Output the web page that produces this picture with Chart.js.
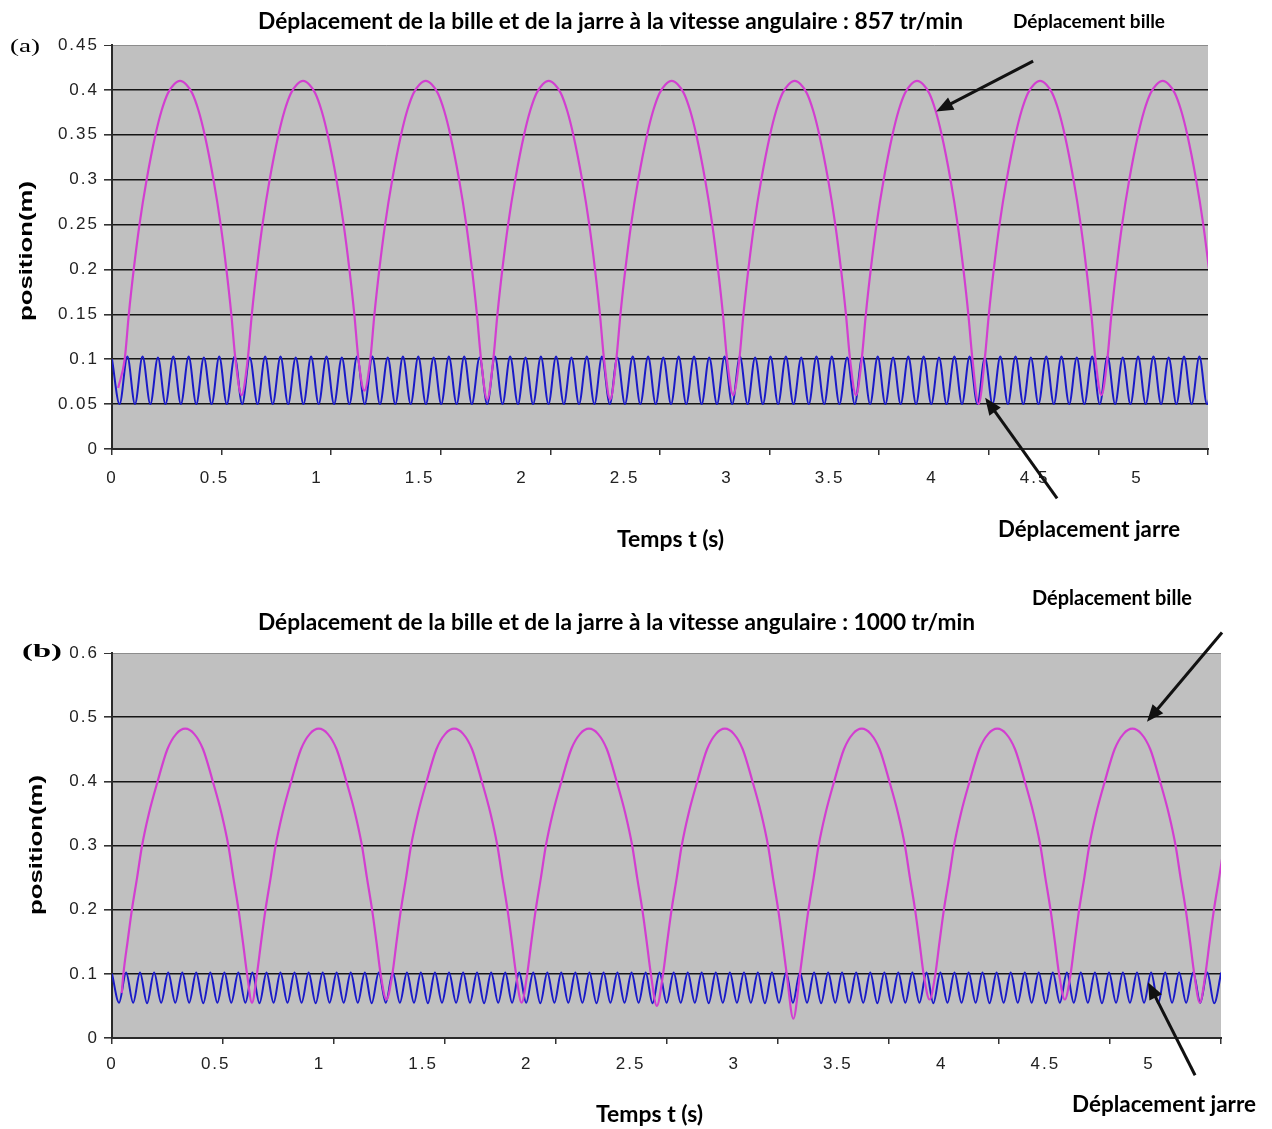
<!DOCTYPE html>
<html>
<head>
<meta charset="utf-8">
<script src="https://cdn.jsdelivr.net/npm/chart.js@4.4.0/dist/chart.umd.min.js"></script>
<style>
  body { margin: 0; background: #fff; }
  .panel { position: absolute; left: 0; width: 1272px; }
</style>
</head>
<body>
<div class="panel" style="top:0;height:565px"><canvas id="chartA"></canvas></div>
<div class="panel" style="top:565px;height:564px"><canvas id="chartB"></canvas></div>
<script>
// ---- données ----
const titreA = "Déplacement de la bille et de la jarre à la vitesse angulaire : 857 tr/min";
const titreB = "Déplacement de la bille et de la jarre à la vitesse angulaire : 1000 tr/min";
const labelBille = "Déplacement bille";
const labelJarre = "Déplacement jarre";
const labelTemps = "Temps t (s)";
const labelPosition = "position(m)";

const xTicks = [0, 0.5, 1, 1.5, 2, 2.5, 3, 3.5, 4, 4.5, 5];
const yTicksA = [0, 0.05, 0.1, 0.15, 0.2, 0.25, 0.3, 0.35, 0.4, 0.45];
const yTicksB = [0, 0.1, 0.2, 0.3, 0.4, 0.5, 0.6];

// (a) 857 tr/min : bille
const billeA_t = [
  0.030, 0.062, 0.082, 0.106, 0.134, 0.169, 0.212, 0.242, 0.272, 0.302, 0.332, 0.362, 0.392, 0.422, 0.452, 0.495, 0.530, 0.558, 0.582, 0.602, 0.632,
  0.662, 0.682, 0.706, 0.734, 0.769, 0.812, 0.842, 0.872, 0.902, 0.932, 0.962, 0.992, 1.022, 1.052, 1.095, 1.130, 1.158, 1.182, 1.202, 1.231,
  1.260, 1.280, 1.304, 1.332, 1.367, 1.410, 1.440, 1.470, 1.500, 1.530, 1.560, 1.590, 1.620, 1.650, 1.693, 1.728, 1.756, 1.780, 1.800, 1.830,
  1.860, 1.880, 1.904, 1.932, 1.967, 2.010, 2.040, 2.070, 2.100, 2.130, 2.160, 2.190, 2.220, 2.250, 2.293, 2.328, 2.356, 2.380, 2.400, 2.430,
  2.460, 2.480, 2.504, 2.532, 2.567, 2.610, 2.640, 2.670, 2.700, 2.730, 2.760, 2.790, 2.820, 2.850, 2.893, 2.928, 2.956, 2.980, 3.000, 3.030,
  3.060, 3.080, 3.104, 3.132, 3.167, 3.210, 3.240, 3.270, 3.300, 3.330, 3.360, 3.390, 3.420, 3.450, 3.493, 3.528, 3.556, 3.580, 3.600, 3.629,
  3.657, 3.677, 3.701, 3.729, 3.764, 3.807, 3.837, 3.867, 3.897, 3.927, 3.957, 3.987, 4.017, 4.047, 4.090, 4.125, 4.153, 4.177, 4.197, 4.227,
  4.257, 4.277, 4.301, 4.329, 4.364, 4.407, 4.437, 4.467, 4.497, 4.527, 4.557, 4.587, 4.617, 4.647, 4.690, 4.725, 4.753, 4.777, 4.797, 4.826,
  4.855, 4.875, 4.899, 4.927, 4.962, 5.005, 5.035, 5.065, 5.095, 5.125, 5.155, 5.185, 5.215, 5.245, 5.288, 5.323, 5.351
];
const billeA_y = [
  0.068, 0.10, 0.15, 0.20, 0.25, 0.30, 0.35, 0.377, 0.396, 0.406, 0.41, 0.406, 0.396, 0.377, 0.35, 0.30, 0.25, 0.20, 0.15, 0.10, 0.06,
  0.10, 0.15, 0.20, 0.25, 0.30, 0.35, 0.377, 0.396, 0.406, 0.41, 0.406, 0.396, 0.377, 0.35, 0.30, 0.25, 0.20, 0.15, 0.10, 0.065,
  0.10, 0.15, 0.20, 0.25, 0.30, 0.35, 0.377, 0.396, 0.406, 0.41, 0.406, 0.396, 0.377, 0.35, 0.30, 0.25, 0.20, 0.15, 0.10, 0.055,
  0.10, 0.15, 0.20, 0.25, 0.30, 0.35, 0.377, 0.396, 0.406, 0.41, 0.406, 0.396, 0.377, 0.35, 0.30, 0.25, 0.20, 0.15, 0.10, 0.055,
  0.10, 0.15, 0.20, 0.25, 0.30, 0.35, 0.377, 0.396, 0.406, 0.41, 0.406, 0.396, 0.377, 0.35, 0.30, 0.25, 0.20, 0.15, 0.10, 0.06,
  0.10, 0.15, 0.20, 0.25, 0.30, 0.35, 0.377, 0.396, 0.406, 0.41, 0.406, 0.396, 0.377, 0.35, 0.30, 0.25, 0.20, 0.15, 0.10, 0.06,
  0.10, 0.15, 0.20, 0.25, 0.30, 0.35, 0.377, 0.396, 0.406, 0.41, 0.406, 0.396, 0.377, 0.35, 0.30, 0.25, 0.20, 0.15, 0.10, 0.05,
  0.10, 0.15, 0.20, 0.25, 0.30, 0.35, 0.377, 0.396, 0.406, 0.41, 0.406, 0.396, 0.377, 0.35, 0.30, 0.25, 0.20, 0.15, 0.10, 0.06,
  0.10, 0.15, 0.20, 0.25, 0.30, 0.35, 0.377, 0.396, 0.406, 0.41, 0.406, 0.396, 0.377, 0.35, 0.30, 0.25, 0.20
];

// (a) 857 tr/min : jarre (crêtes et creux)
const jarreA_t = [
  0.000, 0.037, 0.075, 0.112, 0.149, 0.187, 0.224, 0.261, 0.299, 0.336,
  0.374, 0.411, 0.448, 0.486, 0.523, 0.560, 0.598, 0.635, 0.672, 0.710,
  0.747, 0.784, 0.822, 0.859, 0.896, 0.934, 0.971, 1.008, 1.046, 1.083,
  1.121, 1.158, 1.195, 1.233, 1.270, 1.307, 1.345, 1.382, 1.419, 1.457,
  1.494, 1.531, 1.569, 1.606, 1.643, 1.681, 1.718, 1.755, 1.793, 1.830,
  1.868, 1.905, 1.942, 1.980, 2.017, 2.054, 2.092, 2.129, 2.166, 2.204,
  2.241, 2.278, 2.316, 2.353, 2.390, 2.428, 2.465, 2.502, 2.540, 2.577,
  2.615, 2.652, 2.689, 2.727, 2.764, 2.801, 2.839, 2.876, 2.913, 2.951,
  2.988, 3.025, 3.063, 3.100, 3.137, 3.175, 3.212, 3.249, 3.287, 3.324,
  3.362, 3.399, 3.436, 3.474, 3.511, 3.548, 3.586, 3.623, 3.660, 3.698,
  3.735, 3.772, 3.810, 3.847, 3.884, 3.922, 3.959, 3.996, 4.034, 4.071,
  4.109, 4.146, 4.183, 4.221, 4.258, 4.295, 4.333, 4.370, 4.407, 4.445,
  4.482, 4.519, 4.557, 4.594, 4.631, 4.669, 4.706, 4.743, 4.781, 4.818,
  4.856, 4.893, 4.930, 4.968, 5.005, 5.042, 5.080, 5.117, 5.154, 5.192,
  5.229, 5.266, 5.304, 5.341, 5.378
];
const jarreA_y = [
  0.100, 0.050, 0.103, 0.050, 0.103, 0.050, 0.102, 0.050, 0.103, 0.050,
  0.103, 0.050, 0.102, 0.050, 0.103, 0.050, 0.103, 0.050, 0.102, 0.050,
  0.103, 0.050, 0.103, 0.050, 0.102, 0.050, 0.103, 0.050, 0.103, 0.050,
  0.102, 0.050, 0.103, 0.050, 0.103, 0.050, 0.102, 0.050, 0.103, 0.050,
  0.103, 0.050, 0.102, 0.050, 0.103, 0.050, 0.103, 0.050, 0.102, 0.050,
  0.103, 0.050, 0.103, 0.050, 0.102, 0.050, 0.103, 0.050, 0.103, 0.050,
  0.102, 0.050, 0.103, 0.050, 0.103, 0.050, 0.102, 0.050, 0.103, 0.050,
  0.103, 0.050, 0.102, 0.050, 0.103, 0.050, 0.103, 0.050, 0.102, 0.050,
  0.103, 0.050, 0.103, 0.050, 0.102, 0.050, 0.103, 0.050, 0.103, 0.050,
  0.102, 0.050, 0.103, 0.050, 0.103, 0.050, 0.102, 0.050, 0.103, 0.050,
  0.103, 0.050, 0.102, 0.050, 0.103, 0.050, 0.103, 0.050, 0.102, 0.050,
  0.103, 0.050, 0.103, 0.050, 0.102, 0.050, 0.103, 0.050, 0.103, 0.050,
  0.102, 0.050, 0.103, 0.050, 0.103, 0.050, 0.102, 0.050, 0.103, 0.050,
  0.103, 0.050, 0.102, 0.050, 0.103, 0.050, 0.103, 0.050, 0.102, 0.050,
  0.103, 0.050, 0.103, 0.050, 0.102
];

// (b) 1000 tr/min : bille
const billeB_t = [
  0.047, 0.055, 0.075, 0.096, 0.121, 0.145, 0.178, 0.220, 0.267, 0.310, 0.353, 0.396, 0.439, 0.486, 0.528, 0.561, 0.585, 0.610, 0.631, 0.651, 0.675,
  0.699, 0.719, 0.740, 0.765, 0.789, 0.822, 0.864, 0.911, 0.954, 0.997, 1.040, 1.083, 1.130, 1.172, 1.205, 1.229, 1.254, 1.275, 1.295, 1.323,
  1.352, 1.372, 1.393, 1.418, 1.442, 1.475, 1.517, 1.564, 1.607, 1.650, 1.693, 1.736, 1.783, 1.825, 1.858, 1.882, 1.907, 1.928, 1.948, 1.975,
  2.002, 2.022, 2.043, 2.068, 2.092, 2.125, 2.167, 2.214, 2.257, 2.300, 2.343, 2.386, 2.433, 2.475, 2.508, 2.532, 2.557, 2.578, 2.598, 2.627,
  2.657, 2.677, 2.698, 2.723, 2.747, 2.780, 2.822, 2.869, 2.912, 2.955, 2.998, 3.041, 3.088, 3.130, 3.163, 3.187, 3.212, 3.233, 3.253, 3.285,
  3.317, 3.337, 3.358, 3.383, 3.407, 3.440, 3.482, 3.529, 3.572, 3.615, 3.658, 3.701, 3.748, 3.790, 3.823, 3.847, 3.872, 3.893, 3.913, 3.942,
  3.970, 3.990, 4.011, 4.036, 4.060, 4.093, 4.135, 4.182, 4.225, 4.268, 4.311, 4.354, 4.401, 4.443, 4.476, 4.500, 4.525, 4.546, 4.566, 4.594,
  4.622, 4.642, 4.663, 4.688, 4.712, 4.745, 4.787, 4.834, 4.877, 4.920, 4.963, 5.006, 5.053, 5.095, 5.128, 5.152, 5.177, 5.198, 5.218, 5.245,
  5.272, 5.292, 5.313, 5.338, 5.362
];
const billeB_y = [
  0.07, 0.10, 0.15, 0.20, 0.25, 0.30, 0.35, 0.40, 0.45, 0.474, 0.482, 0.474, 0.45, 0.40, 0.35, 0.30, 0.25, 0.20, 0.15, 0.10, 0.055,
  0.10, 0.15, 0.20, 0.25, 0.30, 0.35, 0.40, 0.45, 0.474, 0.482, 0.474, 0.45, 0.40, 0.35, 0.30, 0.25, 0.20, 0.15, 0.10, 0.06,
  0.10, 0.15, 0.20, 0.25, 0.30, 0.35, 0.40, 0.45, 0.474, 0.482, 0.474, 0.45, 0.40, 0.35, 0.30, 0.25, 0.20, 0.15, 0.10, 0.055,
  0.10, 0.15, 0.20, 0.25, 0.30, 0.35, 0.40, 0.45, 0.474, 0.482, 0.474, 0.45, 0.40, 0.35, 0.30, 0.25, 0.20, 0.15, 0.10, 0.05,
  0.10, 0.15, 0.20, 0.25, 0.30, 0.35, 0.40, 0.45, 0.474, 0.482, 0.474, 0.45, 0.40, 0.35, 0.30, 0.25, 0.20, 0.15, 0.10, 0.03,
  0.10, 0.15, 0.20, 0.25, 0.30, 0.35, 0.40, 0.45, 0.474, 0.482, 0.474, 0.45, 0.40, 0.35, 0.30, 0.25, 0.20, 0.15, 0.10, 0.06,
  0.10, 0.15, 0.20, 0.25, 0.30, 0.35, 0.40, 0.45, 0.474, 0.482, 0.474, 0.45, 0.40, 0.35, 0.30, 0.25, 0.20, 0.15, 0.10, 0.06,
  0.10, 0.15, 0.20, 0.25, 0.30, 0.35, 0.40, 0.45, 0.474, 0.482, 0.474, 0.45, 0.40, 0.35, 0.30, 0.25, 0.20, 0.15, 0.10, 0.055,
  0.10, 0.15, 0.20, 0.25, 0.30
];

// (b) 1000 tr/min : jarre
const jarreB_t = [
  0.000, 0.034, 0.068, 0.102, 0.135, 0.169, 0.203, 0.237, 0.271, 0.305,
  0.339, 0.372, 0.406, 0.440, 0.474, 0.508, 0.542, 0.575, 0.609, 0.643,
  0.677, 0.711, 0.745, 0.779, 0.812, 0.846, 0.880, 0.914, 0.948, 0.982,
  1.016, 1.049, 1.083, 1.117, 1.151, 1.185, 1.219, 1.252, 1.286, 1.320,
  1.354, 1.388, 1.422, 1.456, 1.489, 1.523, 1.557, 1.591, 1.625, 1.659,
  1.693, 1.726, 1.760, 1.794, 1.828, 1.862, 1.896, 1.929, 1.963, 1.997,
  2.031, 2.065, 2.099, 2.133, 2.166, 2.200, 2.234, 2.268, 2.302, 2.336,
  2.370, 2.403, 2.437, 2.471, 2.505, 2.539, 2.573, 2.606, 2.640, 2.674,
  2.708, 2.742, 2.776, 2.810, 2.843, 2.877, 2.911, 2.945, 2.979, 3.013,
  3.047, 3.080, 3.114, 3.148, 3.182, 3.216, 3.250, 3.283, 3.317, 3.351,
  3.385, 3.419, 3.453, 3.487, 3.520, 3.554, 3.588, 3.622, 3.656, 3.690,
  3.724, 3.757, 3.791, 3.825, 3.859, 3.893, 3.927, 3.960, 3.994, 4.028,
  4.062, 4.096, 4.130, 4.164, 4.197, 4.231, 4.265, 4.299, 4.333, 4.367,
  4.401, 4.434, 4.468, 4.502, 4.536, 4.570, 4.604, 4.637, 4.671, 4.705,
  4.739, 4.773, 4.807, 4.841, 4.874, 4.908, 4.942, 4.976, 5.010, 5.044,
  5.078, 5.111, 5.145, 5.179, 5.213, 5.247, 5.281, 5.314, 5.348
];
const jarreB_y = [
  0.100, 0.055, 0.102, 0.055, 0.102, 0.054, 0.102, 0.055, 0.102, 0.055,
  0.102, 0.055, 0.102, 0.054, 0.102, 0.055, 0.102, 0.055, 0.102, 0.055,
  0.102, 0.054, 0.102, 0.055, 0.102, 0.055, 0.102, 0.055, 0.102, 0.054,
  0.102, 0.055, 0.102, 0.055, 0.102, 0.055, 0.102, 0.054, 0.102, 0.055,
  0.102, 0.055, 0.102, 0.055, 0.102, 0.054, 0.102, 0.055, 0.102, 0.055,
  0.102, 0.055, 0.102, 0.054, 0.102, 0.055, 0.102, 0.055, 0.102, 0.055,
  0.102, 0.054, 0.102, 0.055, 0.102, 0.055, 0.102, 0.055, 0.102, 0.054,
  0.102, 0.055, 0.102, 0.055, 0.102, 0.055, 0.102, 0.054, 0.102, 0.055,
  0.102, 0.055, 0.102, 0.055, 0.102, 0.054, 0.102, 0.055, 0.102, 0.055,
  0.102, 0.055, 0.102, 0.054, 0.102, 0.055, 0.102, 0.055, 0.102, 0.055,
  0.102, 0.054, 0.102, 0.055, 0.102, 0.055, 0.102, 0.055, 0.102, 0.054,
  0.102, 0.055, 0.102, 0.055, 0.102, 0.055, 0.102, 0.054, 0.102, 0.055,
  0.102, 0.055, 0.102, 0.055, 0.102, 0.054, 0.102, 0.055, 0.102, 0.055,
  0.102, 0.055, 0.102, 0.054, 0.102, 0.055, 0.102, 0.055, 0.102, 0.055,
  0.102, 0.054, 0.102, 0.055, 0.102, 0.055, 0.102, 0.055, 0.102, 0.054,
  0.102, 0.055, 0.102, 0.055, 0.102, 0.055, 0.102, 0.054, 0.102
];

// flèches [t départ, y départ, t pointe, y pointe]
const flechesA = [[4.493, 0.432, 4.020, 0.376], [4.610, -0.055, 4.259, 0.057]];
const flechesB = [[5.352, 0.632, 4.990, 0.493], [5.222, -0.058, 4.995, 0.087]];

// ---- dessin ----
const pts = (t, y) => t.map((v, i) => ({ x: v, y: y[i] }));

function drawArrow(ctx, x1, y1, x2, y2) {
  const a = Math.atan2(y2 - y1, x2 - x1), L = 17, W = 7;
  ctx.save();
  ctx.strokeStyle = '#111';
  ctx.fillStyle = '#111';
  ctx.lineWidth = 3;
  ctx.beginPath();
  ctx.moveTo(x1, y1);
  ctx.lineTo(x2 - L * 0.8 * Math.cos(a), y2 - L * 0.8 * Math.sin(a));
  ctx.stroke();
  ctx.beginPath();
  ctx.moveTo(x2, y2);
  ctx.lineTo(x2 - L * Math.cos(a) + W * Math.sin(a), y2 - L * Math.sin(a) - W * Math.cos(a));
  ctx.lineTo(x2 - L * Math.cos(a) - W * Math.sin(a), y2 - L * Math.sin(a) + W * Math.cos(a));
  ctx.closePath();
  ctx.fill();
  ctx.restore();
}

function drawText(ctx, t, offY) {
  ctx.save();
  ctx.font = t.weight + ' ' + t.size + 'px ' + t.family;
  const w = ctx.measureText(t.s).width;
  const sx = t.w / w, sy = t.stretch ? 1 : sx;
  ctx.translate(t.x, t.y - offY);
  if (t.rot) ctx.rotate(-Math.PI / 2);
  ctx.scale(sx, sy);
  ctx.fillStyle = '#000';
  ctx.textAlign = 'center';
  ctx.textBaseline = 'middle';
  ctx.fillText(t.s, 0, 0);
  ctx.restore();
}

const fondGris = {
  id: 'fondGris',
  beforeDraw(chart) {
    const { ctx, chartArea: a } = chart;
    ctx.save();
    ctx.fillStyle = '#c0c0c0';
    ctx.fillRect(a.left, a.top, a.right - a.left, a.bottom - a.top);
    ctx.restore();
    ctx.letterSpacing = '2px';
  }
};

function annotations(fleches, textes, offY) {
  return {
    id: 'annotations',
    afterDraw(chart) {
      const ctx = chart.ctx;
      ctx.letterSpacing = '0px';
      const sx = chart.scales.x, sy = chart.scales.y;
      fleches.forEach(f => drawArrow(ctx, sx.getPixelForValue(f[0]), sy.getPixelForValue(f[1]),
                                          sx.getPixelForValue(f[2]), sy.getPixelForValue(f[3])));
      textes.forEach(t => drawText(ctx, t, offY));
    }
  };
}

const tickFont = { family: "'Liberation Sans', Arial, sans-serif", size: 17 };

function makeChart(id, p) {
  return new Chart(document.getElementById(id), {
    type: 'scatter',
    data: {
      datasets: [
        {
          label: labelBille,
          data: pts(p.billeT, p.billeY),
          showLine: true,
          borderColor: '#d23fd0',
          borderWidth: 2.2,
          pointRadius: 0,
          cubicInterpolationMode: 'monotone'
        },
        {
          label: labelJarre,
          data: pts(p.jarreT, p.jarreY),
          showLine: true,
          borderColor: '#1a1ac8',
          borderWidth: 2,
          pointRadius: 0,
          cubicInterpolationMode: 'monotone'
        }
      ]
    },
    options: {
      responsive: true,
      maintainAspectRatio: false,
      animation: false,
      events: [],
      layout: { padding: p.padding },
      plugins: { legend: { display: false }, tooltip: { enabled: false } },
      scales: {
        x: {
          type: 'linear', position: 'bottom', weight: 1,
          min: 0, max: p.xMax,
          afterBuildTicks: s => { s.ticks = xTicks.map(v => ({ value: v })); },
          afterFit: s => { s.height = 40; },
          grid: { display: false, drawTicks: false },
          border: { display: true, color: '#2a2a2a', width: 2 },
          ticks: { padding: p.xPad, color: '#222', font: tickFont, maxRotation: 0, autoSkip: false, callback: v => String(v) }
        },
        xt: {
          type: 'linear', position: 'bottom', weight: 0,
          min: 0, max: 5,
          afterBuildTicks: s => { s.ticks = xTicks.map(v => ({ value: v })); },
          afterFit: s => { s.height = 0; },
          grid: { drawOnChartArea: false, drawTicks: true, tickLength: 6, color: '#333', lineWidth: 1.5 },
          border: { display: false },
          ticks: { display: false }
        },
        y: {
          min: 0, max: p.yMax,
          afterBuildTicks: s => { s.ticks = p.yTicks.map(v => ({ value: v })); },
          afterFit: s => { s.width = 112; },
          grid: {
            color: c => (c.tick && c.tick.value === p.yMax) ? '#8c8c8c' : '#151515',
            lineWidth: c => (c.tick && c.tick.value === p.yMax) ? 1 : 1.6,
            tickLength: 8,
            tickColor: '#333'
          },
          border: { color: '#2a2a2a', width: 2 },
          ticks: { padding: 5, color: '#222', font: tickFont, callback: v => String(v) }
        }
      }
    },
    plugins: [fondGris, annotations(p.fleches, p.textes, p.offY)]
  });
}

const calibri = "Lato, 'Open Sans', sans-serif";
const arial = "'Liberation Sans', Arial, sans-serif";
const serif = "'Liberation Serif', 'Times New Roman', serif";

makeChart('chartA', {
  billeT: billeA_t, billeY: billeA_y, jarreT: jarreA_t, jarreY: jarreA_y,
  xMax: 5.346, yMax: 0.45, yTicks: yTicksA, xPad: 19,
  padding: { top: 45, right: 64, bottom: 76, left: 0 },
  fleches: flechesA, offY: 0,
  textes: [
    { s: titreA, x: 610.5, y: 22, w: 705, size: 20, weight: 'bold', family: calibri },
    { s: labelBille, x: 1089, y: 22, w: 152, size: 16, weight: 'bold', family: calibri },
    { s: labelJarre, x: 1089, y: 530, w: 182, size: 18, weight: 'bold', family: calibri },
    { s: labelTemps, x: 670.5, y: 540, w: 107, size: 18, weight: 'bold', family: calibri },
    { s: labelPosition, x: 27, y: 251, w: 140, size: 18, weight: 'bold', family: arial, rot: true, stretch: true },
    { s: '(a)', x: 25, y: 47, w: 30, size: 18, weight: 'normal', family: serif, stretch: true }
  ]
});

makeChart('chartB', {
  billeT: billeB_t, billeY: billeB_y, jarreT: jarreB_t, jarreY: jarreB_y,
  xMax: 5.347, yMax: 0.6, yTicks: yTicksB, xPad: 16,
  padding: { top: 88, right: 51, bottom: 51, left: 0 },
  fleches: flechesB, offY: 565,
  textes: [
    { s: titreB, x: 616.5, y: 623, w: 717, size: 20, weight: 'bold', family: calibri },
    { s: labelBille, x: 1112, y: 599, w: 160, size: 16, weight: 'bold', family: calibri },
    { s: labelJarre, x: 1164, y: 1105, w: 184, size: 18, weight: 'bold', family: calibri },
    { s: labelTemps, x: 649.5, y: 1115, w: 107, size: 18, weight: 'bold', family: calibri },
    { s: labelPosition, x: 37, y: 845, w: 140, size: 18, weight: 'bold', family: arial, rot: true, stretch: true },
    { s: '(b)', x: 42, y: 652, w: 40, size: 19, weight: 'bold', family: serif, stretch: true }
  ]
});
</script>
</body>
</html>
